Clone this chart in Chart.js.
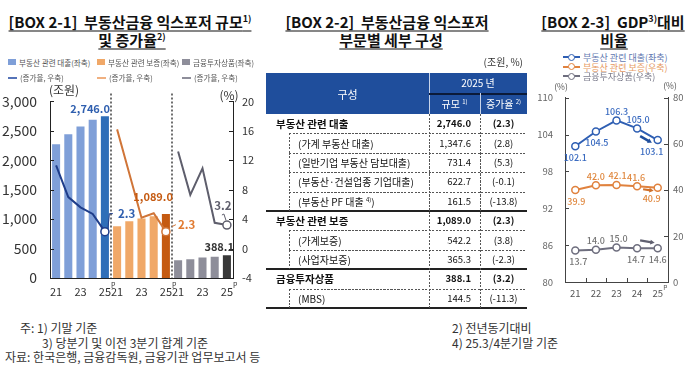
<!DOCTYPE html>
<html><head><meta charset="utf-8">
<script src="https://cdn.jsdelivr.net/npm/chart.js@4.4.1/dist/chart.umd.min.js"></script>
<style>
html,body{margin:0;padding:0;background:#fff;}
#root{position:relative;width:700px;height:371px;overflow:hidden;font-family:'Noto Sans CJK KR','Noto Sans',sans-serif;color:#222;}
.abs{position:absolute;white-space:nowrap;line-height:1;}
.t{font-weight:700;font-size:15px;color:#111;text-decoration:underline;text-underline-offset:3px;text-decoration-thickness:1px;}
sup{font-size:0.6em;vertical-align:0.6em;line-height:0;}
canvas{position:absolute;}
.hl{position:absolute;height:1px;}
.vl{position:absolute;width:1px;}
</style></head>
<body><div id="root">
<canvas id="c1" width="262" height="225" style="left:0;top:80px;width:262px;height:225px"></canvas>
<canvas id="c3" width="180" height="225" style="left:520px;top:80px;width:180px;height:225px"></canvas>
</div>
<script>
// ---------- DATA ----------
const years = ['21','22','23','24','25'];
const legend1 = ['부동산 관련 대출(좌축)','부동산 관련 보증(좌축)','금융투자상품(좌축)'];
const legend1b = ['(증가율, 우축)','(증가율, 우축)','(증가율, 우축)'];
const loanSize  = [2270, 2440, 2575, 2690, 2746.0];
const guarSize  = [880, 965, 1010, 1050, 1089.0];
const finSize   = [300, 318, 350, 362, 388.1];
const loanGrowth = [11.3, 7.0, 5.6, 4.7, 2.3];
const guarGrowth = [16.2, 10.2, 4.2, 4.8, 2.3];
const finGrowth  = [13.2, 7.3, 10.9, 3.5, 3.2];

const rowLabels = ['부동산 관련 대출','(가계 부동산 대출)','(일반기업 부동산 담보대출)','(부동산·건설업종 기업대출)','(부동산 PF 대출','부동산 관련 보증','(가계보증)','(사업자보증)','금융투자상품','(MBS)'];
const rowNotes  = ['','','','','4)','','','','',''];
const rowLevel  = [0,1,1,1,1,0,1,1,0,1];
const rowSize   = [2746.0,1347.6,731.4,622.7,161.5,1089.0,542.2,365.3,388.1,144.5];
const rowGrowth = [2.3,2.8,5.3,-0.1,-13.8,2.3,3.8,-2.3,3.2,-11.3];

const legend3 = ['부동산 관련 대출(좌축)','부동산 관련 보증(우축)','금융투자상품(우축)'];
const gdpLoan = [102.1,104.5,106.3,105.0,103.1];
const gdpGuar = [39.9,42.0,42.1,41.6,40.9];
const gdpFin  = [13.7,14.0,15.0,14.7,14.6];

// ---------- HTML helpers ----------
const root = document.getElementById('root');
function el(html,x,y,css,anchor){
  const d=document.createElement('div'); d.className='abs'; d.innerHTML=html;
  d.style.left=x+'px'; d.style.top=y+'px'; Object.assign(d.style,css||{});
  const tx = anchor==='c'?'-50%':anchor==='r'?'-100%':'0';
  d.style.transform='translate('+tx+',-50%)'; root.appendChild(d); return d;
}
function hline(x1,x2,y,css){const d=document.createElement('div');d.className='hl';d.style.left=x1+'px';d.style.width=(x2-x1)+'px';d.style.top=y+'px';Object.assign(d.style,css);root.appendChild(d);}
function vline(x,y1,y2,css){const d=document.createElement('div');d.className='vl';d.style.left=x+'px';d.style.top=y1+'px';d.style.height=(y2-y1)+'px';Object.assign(d.style,css);root.appendChild(d);}
const dashH={background:'repeating-linear-gradient(90deg,#555 0 2px,transparent 2px 3.5px)'};
const dashV={background:'repeating-linear-gradient(180deg,#555 0 2px,transparent 2px 3.5px)'};
const fmt = v => v.toLocaleString('en-US',{minimumFractionDigits:1,maximumFractionDigits:1});

// ---------- titles ----------
el('[BOX 2-1]&nbsp;&nbsp;부동산금융 익스포저 규모<sup>1)</sup>',130,21,{},'c').className+=' t';
el('및 증가율<sup>2)</sup>',132,39,{},'c').className+=' t';
el('[BOX 2-2]&nbsp;&nbsp;부동산금융 익스포저',387,21,{},'c').className+=' t';
el('부문별 세부 구성',391,39,{},'c').className+=' t';
el('[BOX 2-3]&nbsp;&nbsp;GDP<sup>3)</sup>대비',613,21,{},'c').className+=' t';
el('비율',614,39,{},'c').className+=' t';

// ---------- chart1 legend ----------
const c1Bar=['#7f9fd8','#f0a868','#8e8e9a'];
const c1BarDark=['#2f6eb8','#c55a11','#383838'];
const c1Line=['#1f3d8a','#d07538','#5e5e6c'];
const c1LegLine=['#5573b8','#f0b080','#8e8e9a'];
const legX=[8,97,182];
legend1.forEach((t,i)=>{
  const sq=document.createElement('div');sq.style.cssText='position:absolute;left:'+legX[i]+'px;top:59px;width:8px;height:6px;background:'+c1Bar[i];root.appendChild(sq);
  el(t,legX[i]+11,62.5,{fontSize:'7.6px',color:'#555'},'l');
  const ln=document.createElement('div');ln.style.cssText='position:absolute;left:'+legX[i]+'px;top:77px;width:9px;height:2px;background:'+c1LegLine[i];root.appendChild(ln);
  el(legend1b[i],legX[i]+12,78,{fontSize:'7.6px',color:'#555'},'l');
});
el('(조원)',64,90,{fontSize:'12px',color:'#333'},'c');
el('(%)',229,95,{fontSize:'12px',color:'#333'},'c');

// ---------- chart 1 ----------
const N=15;
const cats1=[...years,...years,...years];
function pad(arr,g){const o=new Array(N).fill(null);arr.forEach((v,i)=>o[g*5+i]=v);return o;}
function barCols(g){const o=new Array(N).fill(c1Bar[g]);o[g*5+4]=c1BarDark[g];return o;}
function lineDs(arr,g){return {type:'line',data:pad(arr,g),yAxisID:'y1',borderColor:c1Line[g],borderWidth:2,
  pointRadius:c=>c.dataIndex===g*5+4?4:0,pointBackgroundColor:'#fff',pointBorderColor:c1Line[g],pointBorderWidth:1.5,order:0,tension:0};}
function barDs(arr,g){return {type:'bar',data:pad(arr,g),yAxisID:'y',backgroundColor:barCols(g),grouped:false,barPercentage:0.66,categoryPercentage:1,order:1};}

const deco1={id:'deco1',afterDraw(chart){
  const {ctx,chartArea:a,scales:{x,y,y1}}=chart;
  ctx.save();
  ctx.strokeStyle='#222';ctx.lineWidth=1.3;ctx.setLineDash([2,2]);
  [4,9].forEach(i=>{const px=(x.getPixelForValue(i)+x.getPixelForValue(i+1))/2;ctx.beginPath();ctx.moveTo(px,a.top-8);ctx.lineTo(px,a.bottom);ctx.stroke();});
  ctx.setLineDash([]);
  ctx.strokeStyle='#222';ctx.lineWidth=1;
  y.ticks.forEach((t,i)=>{const py=Math.round(y.getPixelForTick(i))+0.5;ctx.beginPath();ctx.moveTo(a.left,py);ctx.lineTo(a.left+4,py);ctx.stroke();});
  y1.ticks.forEach((t,i)=>{const py=Math.round(y1.getPixelForTick(i))+0.5;ctx.beginPath();ctx.moveTo(a.right,py);ctx.lineTo(a.right-4,py);ctx.stroke();});
  ctx.fillStyle='#333';ctx.font='7px "Noto Sans CJK KR"';ctx.textBaseline='middle';ctx.textAlign='left';
  [4,9,14].forEach(i=>{ctx.fillText('P',x.getPixelForValue(i)+6,a.bottom+7);});
  const barMeta=[3,4,5].map(d=>chart.getDatasetMeta(d));
  const barLab=[[loanSize,'#2f5faf',1,-8],[guarSize,'#c55a11',3,-17],[finSize,'#333',3,-8]];
  barLab.forEach((b,g)=>{const e=barMeta[g].data[g*5+4];ctx.fillStyle=b[1];ctx.font='bold 11px "Noto Sans CJK KR"';ctx.textAlign='right';ctx.textBaseline='middle';
    ctx.fillText(fmt(b[0][4]),e.x+e.width/2+b[2],e.y+b[3]);});
  const lm=[0,1,2].map(d=>chart.getDatasetMeta(d));
  const gl=[[loanGrowth,'#2f5faf',13,-18,'left'],[guarGrowth,'#e07a30',12,-7,'left'],[finGrowth,'#5e5e6c',-4,-19,'center']];
  ctx.font='bold 11.5px "Noto Sans CJK KR"';
  gl.forEach((l,g)=>{const p=lm[g].data[g*5+4];ctx.fillStyle=l[1];ctx.textAlign=l[4];ctx.fillText(l[0][4].toFixed(1),p.x+l[2],p.y+l[3]);});
  ctx.lineWidth=1;
  let p=lm[0].data[4];ctx.strokeStyle=c1Line[0];ctx.beginPath();ctx.moveTo(p.x+3,p.y-3);ctx.lineTo(p.x+4.5,p.y-18);ctx.lineTo(p.x+8,p.y-18);ctx.stroke();
  p=lm[1].data[9];ctx.strokeStyle=c1Line[1];ctx.beginPath();ctx.moveTo(p.x+6,p.y-5);ctx.lineTo(p.x+10,p.y-7);ctx.stroke();
  p=lm[2].data[14];ctx.strokeStyle=c1Line[2];ctx.beginPath();ctx.moveTo(p.x-1,p.y-5);ctx.lineTo(p.x-3,p.y-11);ctx.lineTo(p.x-5,p.y-10);ctx.stroke();
  ctx.restore();
}};

new Chart(document.getElementById('c1'),{
  type:'bar',
  data:{labels:cats1,datasets:[lineDs(loanGrowth,0),lineDs(guarGrowth,1),lineDs(finGrowth,2),barDs(loanSize,0),barDs(guarSize,1),barDs(finSize,2)]},
  options:{responsive:false,animation:false,layout:{padding:{top:18,left:0,right:0,bottom:0}},
    plugins:{legend:{display:false},tooltip:{enabled:false}},
    scales:{
      x:{grid:{display:false,drawTicks:false},border:{display:true,color:'#222',width:1},
         ticks:{autoSkip:false,maxRotation:0,padding:7,font:{size:11,family:'Noto Sans CJK KR'},color:'#333',callback:(v,i)=>((i%5)%2===0?cats1[i]:'')},
         afterFit:s=>{s.height=27;}},
      y:{position:'left',min:0,max:3000,grid:{display:false,drawTicks:false},border:{color:'#222',width:1},
         ticks:{stepSize:500,padding:13,font:{size:14,family:'Noto Sans CJK KR'},color:'#333',callback:v=>v.toLocaleString('en-US')},
         afterFit:s=>{s.width=50;}},
      y1:{position:'right',min:-4,max:20,grid:{display:false,drawTicks:false},border:{color:'#222',width:1},
         ticks:{stepSize:4,padding:9,font:{size:11,family:'Noto Sans CJK KR'},color:'#333'},
         afterFit:s=>{s.width=29;}}
    }},
  plugins:[deco1]
});

// ---------- table ----------
const TL=266,TR=527,C1=429,C2=480,HT=73,HB=114,RH=19.4,IND=289;
const hdr=document.createElement('div');hdr.style.cssText='position:absolute;left:'+TL+'px;top:'+HT+'px;width:'+(TR-TL)+'px;height:'+(HB-HT)+'px;background:#1f4e9c';root.appendChild(hdr);
vline(C1,HT,HB,{background:'#c8d4ea'});
hline(C1,TR,92.5,{background:'#0b1a38',height:'2px'});
vline(C2,93,HB,{background:'#c8d4ea'});
el('구성',(TL+C1)/2,94,{fontSize:'11px',color:'#fff'},'c');
el('2025 년',(C1+TR)/2,83,{fontSize:'10px',color:'#fff'},'c');
el('규모 <sup>1)</sup>',(C1+C2)/2,104,{fontSize:'10px',color:'#fff'},'c');
el('증가율 <sup>2)</sup>',(C2+TR)/2,104,{fontSize:'10px',color:'#fff'},'c');
el('(조원, %)',TR-4,62,{fontSize:'10px',color:'#333'},'r');
rowLabels.forEach((lab,i)=>{
  const top=HB+i*RH, cy=top+RH/2, lvl=rowLevel[i];
  const bold=lvl===0;
  let txt=lab+(rowNotes[i]?' <sup>'+rowNotes[i]+'</sup>)':'');
  el(txt,bold?276:298,cy+0.5,{fontSize:bold?'10.5px':'10px',fontWeight:bold?'700':'400',color:'#111'},'l');
  el(fmt(rowSize[i]),C2-9,cy+0.5,{fontSize:'9.5px',fontWeight:bold?'700':'400',color:'#111'},'r');
  el('('+rowGrowth[i].toFixed(1)+')',(C2+TR)/2,cy+0.5,{fontSize:'9.5px',fontWeight:bold?'700':'400',color:'#111'},'c');
  const bot=top+RH;
  const last=i===rowLabels.length-1;
  if(last||rowLevel[i+1]===0) hline(TL,TR,bot-0.75,{background:'#222',height:'1.5px'});
  else hline(IND,TR,bot,dashH);
  if(lvl===1) vline(IND,top,bot,dashV);
});
vline(C1,HB,HB+RH*10,dashV);
vline(C2,HB,HB+RH*10,dashV);

// ---------- chart 3 legend ----------
const c3Col=['#2f5fb3','#e0823e','#6e6e7e'];
const c3Txt=['#6278b0','#e69a62','#7c7c8c'];
[57,66.5,76].forEach((yy,i)=>{
  const ln=document.createElement('div');ln.style.cssText='position:absolute;left:563px;top:'+(yy-1)+'px;width:17px;height:2px;background:'+c3Col[i];root.appendChild(ln);
  const ci=document.createElement('div');ci.style.cssText='position:absolute;left:'+(571.5-3.5)+'px;top:'+(yy-3.5)+'px;width:5px;height:5px;border:1.5px solid '+c3Col[i]+';border-radius:50%;background:#fff';root.appendChild(ci);
  el(legend3[i],583,yy,{fontSize:'9px',color:c3Txt[i]},'l');
});
el('(%)',561,86,{fontSize:'8.5px',color:'#555'},'c');
el('(%)',670,85,{fontSize:'8.5px',color:'#555'},'c');

// ---------- chart 3 ----------
function ds3(arr,i,ax){return {data:arr,yAxisID:ax,borderColor:c3Col[i],borderWidth:2,pointRadius:3.5,pointBackgroundColor:'#fff',pointBorderColor:c3Col[i],pointBorderWidth:1.5,tension:0};}
function arrow(ctx,x1,y1,x2,y2,col,w){
  const ang=Math.atan2(y2-y1,x2-x1),h=5;
  ctx.strokeStyle=col;ctx.fillStyle=col;ctx.lineWidth=w;ctx.beginPath();ctx.moveTo(x1,y1);ctx.lineTo(x2-Math.cos(ang)*h*0.6,y2-Math.sin(ang)*h*0.6);ctx.stroke();
  ctx.beginPath();ctx.moveTo(x2,y2);ctx.lineTo(x2-h*Math.cos(ang-0.5),y2-h*Math.sin(ang-0.5));ctx.lineTo(x2-h*Math.cos(ang+0.5),y2-h*Math.sin(ang+0.5));ctx.closePath();ctx.fill();
}
const lab3Pos=[['b','b','a','a','b'],['b','a','a','a','b'],['b','a','a','b','b']];
const lab3Dx=[[0,1,0,1,-6],[1,0,1,-1,-6],[3,0,2,-1,0]];
const deco3={id:'deco3',afterDraw(chart){
  const {ctx,chartArea:a,scales:{x,y,y1}}=chart;
  ctx.save();ctx.strokeStyle='#444';ctx.lineWidth=1;
  y.ticks.forEach((t,i)=>{const py=Math.round(y.getPixelForTick(i))+0.5;ctx.beginPath();ctx.moveTo(a.left,py);ctx.lineTo(a.left+4,py);ctx.stroke();});
  y1.ticks.forEach((t,i)=>{const py=Math.round(y1.getPixelForTick(i))+0.5;ctx.beginPath();ctx.moveTo(a.right,py);ctx.lineTo(a.right-4,py);ctx.stroke();});
  for(let i=0;i<years.length-1;i++){const px=Math.round((x.getPixelForValue(i)+x.getPixelForValue(i+1))/2)+0.5;ctx.beginPath();ctx.moveTo(px,a.bottom);ctx.lineTo(px,a.bottom-4);ctx.stroke();}
  ctx.fillStyle='#555';ctx.font='6.5px "Noto Sans CJK KR"';ctx.textAlign='left';ctx.textBaseline='middle';
  ctx.fillText('P',x.getPixelForValue(4)+5.5,a.bottom+6);
  const series=[gdpLoan,gdpGuar,gdpFin];
  const lc=['#3a6bc0','#e0883f','#777'];
  ctx.font='500 9px "Noto Sans CJK KR"';ctx.textAlign='center';
  series.forEach((s,k)=>{const m=chart.getDatasetMeta(k);ctx.fillStyle=lc[k];
    m.data.forEach((p,i)=>{const up=lab3Pos[k][i]==='a';ctx.fillText(s[i].toFixed(1),p.x+lab3Dx[k][i],p.y+(up?-9:11));});});
  const b4=chart.getDatasetMeta(0).data[3],b5=chart.getDatasetMeta(0).data[4];
  const L=(t)=>[b4.x+(b5.x-b4.x)*t,b4.y+(b5.y-b4.y)*t+6];
  const s=L(0.15),e=L(0.72);arrow(ctx,s[0],s[1],e[0],e[1],'#1f4e9c',2.5);
  const o4=chart.getDatasetMeta(1).data[3],o5=chart.getDatasetMeta(1).data[4];
  arrow(ctx,o4.x+6,o5.y+1.5,o5.x-4,o5.y+3,'#d0702a',2.2);
  const g4=chart.getDatasetMeta(2).data[3],g5=chart.getDatasetMeta(2).data[4];
  arrow(ctx,g4.x+3,g5.y-8,g5.x-3,g5.y-5.5,'#606070',2.2);
  ctx.restore();
}};
new Chart(document.getElementById('c3'),{
  type:'line',
  data:{labels:years,datasets:[ds3(gdpLoan,0,'y'),ds3(gdpGuar,1,'y1'),ds3(gdpFin,2,'y1')]},
  options:{responsive:false,animation:false,layout:{padding:{top:10,left:0,right:0,bottom:0}},
    plugins:{legend:{display:false},tooltip:{enabled:false}},
    scales:{
      x:{offset:true,grid:{display:false,drawTicks:false},border:{color:'#444',width:1},
         ticks:{autoSkip:false,maxRotation:0,padding:6,font:{size:9.5,family:'Noto Sans CJK KR'},color:'#555'},
         afterFit:s=>{s.height=23;}},
      y:{position:'left',min:80,max:110,grid:{display:false,drawTicks:false},border:{color:'#444',width:1},
         ticks:{stepSize:6,padding:12,font:{size:9.5,family:'Noto Sans CJK KR'},color:'#666'},
         afterFit:s=>{s.width=45;}},
      y1:{position:'right',min:0,max:80,grid:{display:false,drawTicks:false},border:{color:'#444',width:1},
         ticks:{stepSize:20,padding:5,font:{size:9.5,family:'Noto Sans CJK KR'},color:'#666'},
         afterFit:s=>{s.width=32;}}
    }},
  plugins:[deco3]
});

// ---------- footnotes ----------
const fn={fontSize:'12px',color:'#333'};
el('주: 1) 기말 기준',20,328,fn,'l');
el('3) 당분기 및 이전 3분기 합계 기준',42,343,fn,'l');
el('자료: 한국은행, 금융감독원, 금융기관 업무보고서 등',5,357,fn,'l');
el('2) 전년동기대비',452,328,fn,'l');
el('4) 25.3/4분기말 기준',452,343,fn,'l');
</script>
</body></html>
